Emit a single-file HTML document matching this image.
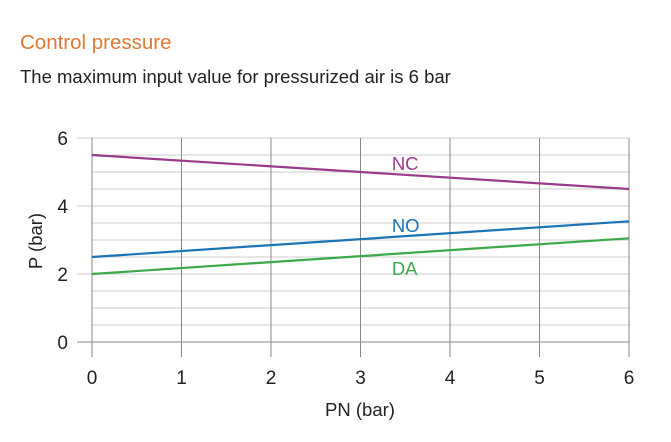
<!DOCTYPE html>
<html><head><meta charset="utf-8"><style>
body{margin:0;width:671px;height:437px;background:#fff;font-family:"Liberation Sans",sans-serif;overflow:hidden}
</style></head><body>
<svg width="671" height="437">
<text x="20" y="49" font-size="20.5" fill="#e07a35" font-family="Liberation Sans">Control pressure</text>
<text x="20" y="83" font-size="18.5" fill="#222" font-family="Liberation Sans">The maximum input value for pressurized air is 6 bar</text>
<g id="grid"></g><g id="lines"></g><g id="labels"></g>
<text x="360" y="416" font-size="18.5" text-anchor="middle" fill="#222">PN (bar)</text>
<text transform="translate(42,241) rotate(-90)" font-size="18.5" text-anchor="middle" fill="#222">P (bar)</text>
</svg>
<script>
const xTicks=[0,1,2,3,4,5,6];
const yTicks=[0,2,4,6];
const seriesNames=["NC","NO","DA"];
const ncValues=[5.5,4.5];
const noValues=[2.5,3.55];
const daValues=[2.0,3.05];
const xEnds=[0,6];
const colors=["#9b3a8c","#1a74b6","#3aaa4a"];
const labelPos=[[3.35,5.06],[3.35,3.24],[3.35,1.97]];
const X=v=>92+v*89.5, Y=v=>342-v*34;
const ns="http://www.w3.org/2000/svg";
function mk(t,a,p){const e=document.createElementNS(ns,t);for(const k in a)e.setAttribute(k,a[k]);p.appendChild(e);return e;}
const g=document.getElementById('grid');
for(let v=0;v<=6.001;v+=0.5){const l=mk('line',{x1:(v%2===0)?77:92,x2:629,y1:Y(v),y2:Y(v),stroke:(v===0)?'#888':'#ccc','stroke-width':1},g);

}
xTicks.forEach(v=>{const l=mk('line',{x1:X(v),x2:X(v),y1:Y(6),y2:357,stroke:'#888','stroke-width':1},g);


const t=mk('text',{x:X(v),y:384,'font-size':19,'text-anchor':'middle',fill:'#222'},g);t.textContent=v;

});
yTicks.forEach(v=>{const t=mk('text',{x:68,y:Y(v)+7,'font-size':19,'text-anchor':'end',fill:'#222'},g);t.textContent=v;

});
const L=document.getElementById('lines');
[ncValues,noValues,daValues].forEach((s,i)=>{const l=mk('line',{x1:X(xEnds[0]),y1:Y(s[0]),x2:X(xEnds[1]),y2:Y(s[1]),stroke:colors[i],'stroke-width':2.2},L);


const t=mk('text',{x:X(labelPos[i][0]),y:Y(labelPos[i][1]),'font-size':18.5,fill:colors[i]},L);t.textContent=seriesNames[i];

});
</script>
</body></html>
